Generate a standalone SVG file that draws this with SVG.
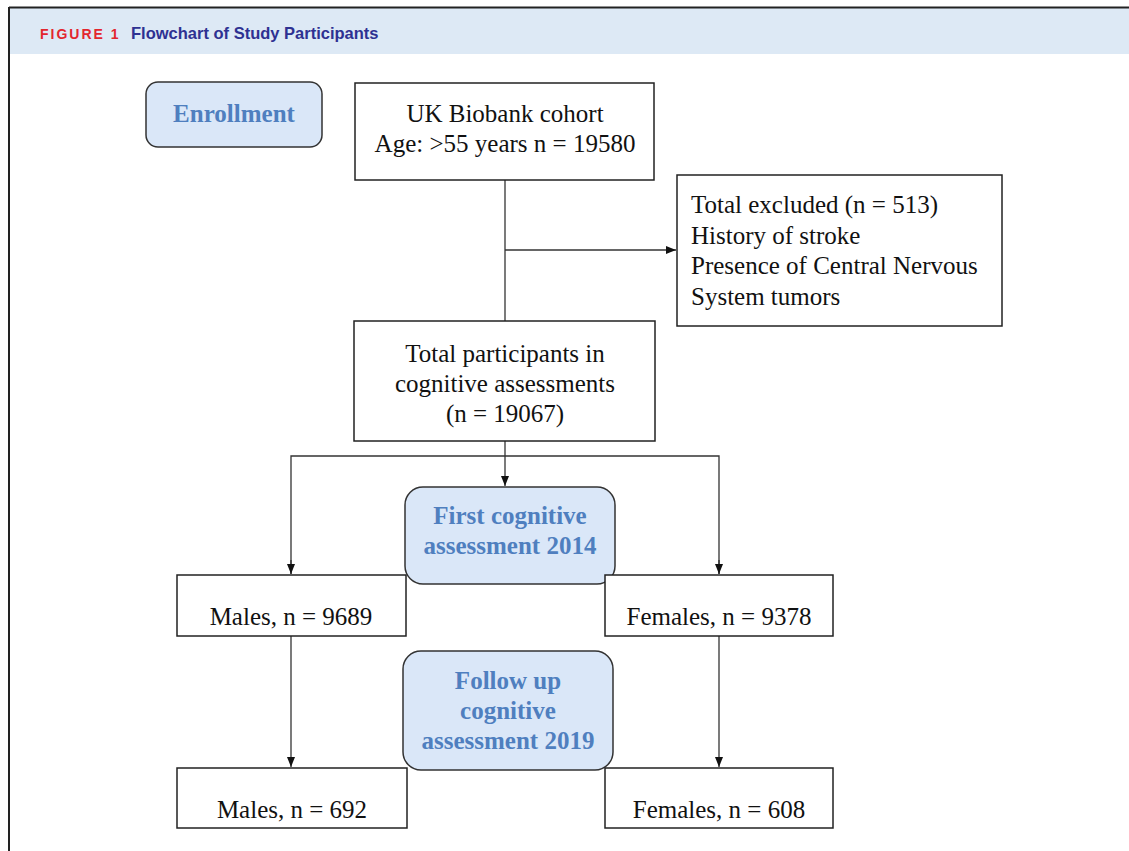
<svg xmlns="http://www.w3.org/2000/svg" width="1129" height="851" viewBox="0 0 1129 851">
<style>
.box{fill:#fff;stroke:#222;stroke-width:1.5}
.rbox{fill:#dae7f8;stroke:#333;stroke-width:1.5}
.t{font-family:"Liberation Serif","Times New Roman",serif;font-size:25px;fill:#111;text-anchor:middle}
.tl{font-family:"Liberation Serif","Times New Roman",serif;font-size:25px;fill:#111}
.b{font-family:"Liberation Serif","Times New Roman",serif;font-size:25px;font-weight:bold;fill:#4f7fbf;text-anchor:middle}
.c{fill:none;stroke:#333;stroke-width:1.3}
</style>
<defs>
<marker id="ah" markerWidth="11" markerHeight="11" refX="10" refY="5.5" orient="auto" markerUnits="userSpaceOnUse">
<path d="M0,1.5 L10,5.5 L0,9.5 Z" fill="#111"/>
</marker>
</defs>
<rect x="0" y="0" width="1129" height="851" fill="#fff"/>
<g id="header">
<rect x="10" y="8" width="1119" height="46" fill="#dde9f5"/>
<line x1="9" y1="7.5" x2="1129" y2="7.5" stroke="#222" stroke-width="2"/>
<line x1="9" y1="7" x2="9" y2="851" stroke="#222" stroke-width="2"/>
<text x="40" y="39" font-family="Liberation Sans, Arial, sans-serif" font-size="14" font-weight="bold" letter-spacing="2" fill="#e3262e">FIGURE 1</text>
<text x="131" y="39" font-family="Liberation Sans, Arial, sans-serif" font-size="16.5" font-weight="bold" fill="#2e3192">Flowchart of Study Participants</text>
</g>
<g id="connectors">
<line class="c" x1="505" y1="180" x2="505" y2="321"/>
<line class="c" x1="505" y1="250" x2="676" y2="250" marker-end="url(#ah)"/>
<line class="c" x1="505" y1="441" x2="505" y2="486" marker-end="url(#ah)"/>
<polyline class="c" points="291,574 291,456 719,456 719,574"/>
<line class="c" x1="291" y1="560" x2="291" y2="574" marker-end="url(#ah)"/>
<line class="c" x1="719" y1="560" x2="719" y2="574" marker-end="url(#ah)"/>
<line class="c" x1="291" y1="636" x2="291" y2="767" marker-end="url(#ah)"/>
<line class="c" x1="719" y1="636" x2="719" y2="767" marker-end="url(#ah)"/>
</g>
<g id="enrollment">
<rect class="rbox" x="146" y="82" width="176" height="65" rx="12"/>
<text class="b" x="234" y="122">Enrollment</text>
</g>
<g id="cohort">
<rect class="box" x="355" y="83" width="299" height="97"/>
<text class="t" x="505" y="122">UK Biobank cohort</text>
<text class="t" x="505" y="152">Age: &gt;55 years n = 19580</text>
</g>
<g id="excluded">
<rect class="box" x="677" y="175" width="325" height="151"/>
<text class="tl" x="691" y="213">Total excluded (n = 513)</text>
<text class="tl" x="691" y="244">History of stroke</text>
<text class="tl" x="691" y="274">Presence of Central Nervous</text>
<text class="tl" x="691" y="305">System  tumors</text>
</g>
<g id="total">
<rect class="box" x="354" y="321" width="301" height="120"/>
<text class="t" x="505" y="362">Total participants in</text>
<text class="t" x="505" y="392">cognitive assessments</text>
<text class="t" x="505" y="422">(n = 19067)</text>
</g>
<g id="first">
<rect class="rbox" x="405" y="487" width="210" height="97" rx="18"/>
<text class="b" x="510" y="524">First cognitive</text>
<text class="b" x="510" y="554">assessment 2014</text>
</g>
<g id="males1">
<rect class="box" x="177" y="575" width="229" height="61"/>
<text class="t" x="291" y="625">Males, n = 9689</text>
</g>
<g id="females1">
<rect class="box" x="605" y="575" width="228" height="61"/>
<text class="t" x="719" y="625">Females, n = 9378</text>
</g>
<g id="followup">
<rect class="rbox" x="403" y="651" width="210" height="119" rx="18"/>
<text class="b" x="508" y="689">Follow up</text>
<text class="b" x="508" y="719">cognitive</text>
<text class="b" x="508" y="749">assessment 2019</text>
</g>
<g id="males2">
<rect class="box" x="177" y="768" width="230" height="60"/>
<text class="t" x="292" y="818">Males, n = 692</text>
</g>
<g id="females2">
<rect class="box" x="605" y="768" width="228" height="60"/>
<text class="t" x="719" y="818">Females, n = 608</text>
</g>
</svg>
